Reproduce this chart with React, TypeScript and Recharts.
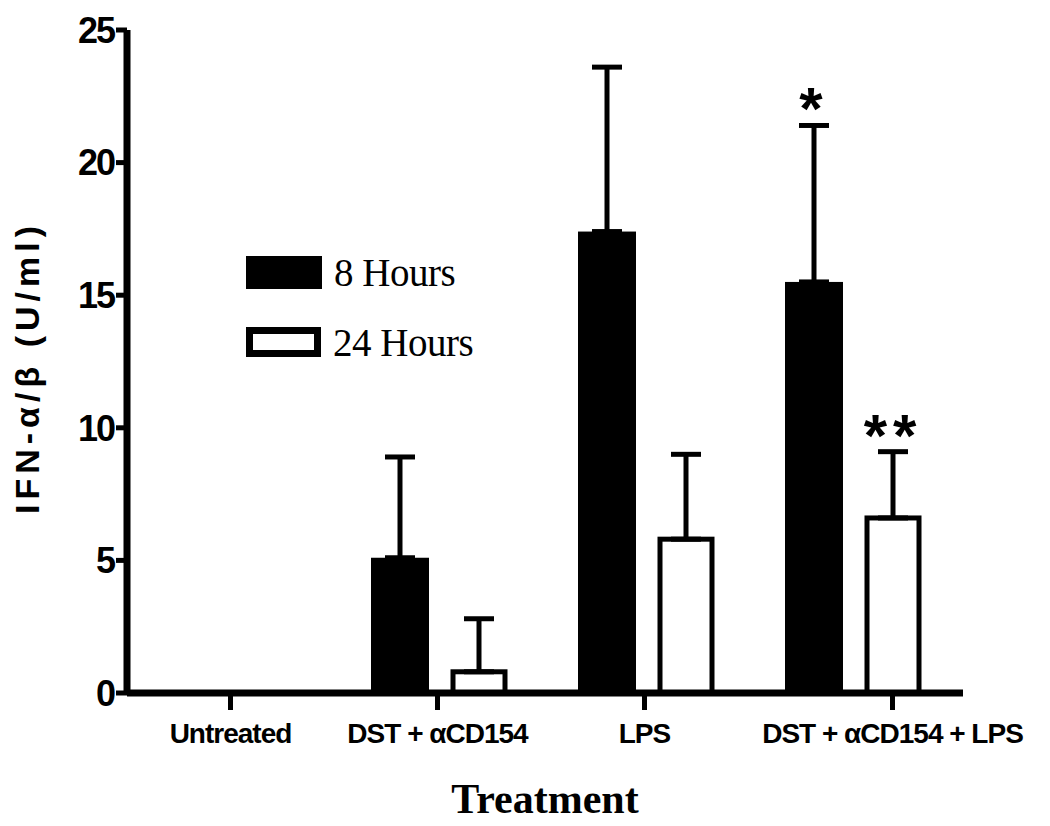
import { BarChart, Bar, XAxis, YAxis, ErrorBar, Legend, Label } from 'recharts';

const treatments = ['Untreated', 'DST + \u03b1CD154', 'LPS', 'DST + \u03b1CD154 + LPS'];
const hours8 = [0, 5.1, 17.4, 15.5];
const hours8Sem = [0, 3.8, 6.2, 5.9];
const hours24 = [0, 0.8, 5.8, 6.6];
const hours24Sem = [0, 2.0, 3.2, 2.5];
const sig8 = ['', '', '', '*'];
const sig24 = ['', '', '', '**'];
const yTicks = [0, 5, 10, 15, 20, 25];

const data = treatments.map((name, i) => ({
  name,
  h8: hours8[i],
  h8Err: [0, hours8Sem[i]],
  h24: hours24[i],
  h24Err: [0, hours24Sem[i]],
}));

const SANS = '"Liberation Sans", Arial, sans-serif';
const SERIF = '"Liberation Serif", "Times New Roman", serif';

// the last label sits under the 24 h bar in the original figure
const tickShift = [0, 0, 0, 41];

function TreatmentTick(props: any) {
  const { x, y, payload, index } = props;
  const cx = x + (tickShift[index] || 0);
  return (
    <g>
      <line x1={cx} y1={y} x2={cx} y2={y + 17} stroke="#000" strokeWidth={5} />
      <text
        x={cx}
        y={y + 50}
        textAnchor="middle"
        fontFamily={SANS}
        fontWeight="bold"
        fontSize={28}
        letterSpacing={-1}
        fill="#000"
      >
        {payload.value}
      </text>
    </g>
  );
}

// bar rectangle plus the significance mark above its error cap
const markedBar = (marks: string[], vals: number[], errs: number[]) => (props: any) => {
  const { x, y, width, height, fill, stroke, strokeWidth, payload } = props;
  const i = treatments.indexOf(payload?.name);
  const mark = marks[i];
  let star = null;
  if (mark && vals[i]) {
    const perUnit = Math.abs(height) / vals[i];
    const capY = Math.min(y, y + height) - errs[i] * perUnit;
    star = (
      <text
        x={x + width / 2}
        y={capY + 4}
        textAnchor="middle"
        fontFamily={SANS}
        fontWeight="bold"
        fontSize={60}
        letterSpacing={6}
        fill="#000"
      >
        {mark}
      </text>
    );
  }
  return (
    <g>
      <rect
        x={x}
        y={Math.min(y, y + height)}
        width={width}
        height={Math.abs(height)}
        fill={fill}
        stroke={stroke}
        strokeWidth={strokeWidth}
      />
      {star}
    </g>
  );
};

function LegendBox() {
  return (
    <div style={{ fontFamily: SERIF, fontSize: 39, color: '#000', lineHeight: 1 }}>
      <div style={{ display: 'flex', alignItems: 'center', height: 33 }}>
        <div style={{ width: 76, height: 33, background: '#000' }} />
        <span style={{ marginLeft: 12, letterSpacing: -0.5 }}>8 Hours</span>
      </div>
      <div style={{ display: 'flex', alignItems: 'center', height: 30, marginTop: 38 }}>
        <div style={{ width: 75, height: 30, border: '7px solid #000', boxSizing: 'border-box', background: '#fff' }} />
        <span style={{ marginLeft: 12, letterSpacing: -0.5 }}>24 Hours</span>
      </div>
    </div>
  );
}

export default function App() {
  return (
    <div style={{ position: 'absolute', left: 0, top: 0, background: '#fff' }}>
      <BarChart
        width={1050}
        height={826}
        data={data}
        margin={{ top: 30, right: 87, left: 0, bottom: 0 }}
        barGap={24}
      >
        <XAxis
          dataKey="name"
          height={133}
          padding={{ left: 0, right: 8 }}
          axisLine={{ stroke: '#000', strokeWidth: 7 }}
          tickLine={false}
          tickSize={0}
          tickMargin={0}
          interval={0}
          tick={<TreatmentTick />}
        >
          <Label
            value="Treatment"
            position="insideBottom"
            offset={13}
            style={{ fontFamily: SERIF, fontWeight: 'bold', fontSize: 42, fill: '#000' }}
          />
        </XAxis>
        <YAxis
          width={127}
          domain={[0, 25]}
          ticks={yTicks}
          interval={0}
          axisLine={{ stroke: '#000', strokeWidth: 7 }}
          tickLine={{ stroke: '#000', strokeWidth: 5 }}
          tickSize={11}
          tickMargin={2}
          tick={{ fontFamily: SANS, fontWeight: 'bold', fontSize: 36, fill: '#000', letterSpacing: -2 }}
        >
          <Label
            content={(p: any) => {
              const vb = p.viewBox;
              const cx = 27;
              const cy = vb.y + vb.height / 2 + 6;
              return (
                <text
                  x={cx}
                  y={cy}
                  transform={`rotate(-90 ${cx} ${cy})`}
                  textAnchor="middle"
                  dominantBaseline="central"
                  fontFamily={SANS}
                  fontWeight="bold"
                  fontSize={34}
                  letterSpacing={5}
                  fill="#000"
                >
                  IFN-α/β (U/ml)
                </text>
              );
            }}
          />
        </YAxis>
        <Legend
          layout="horizontal"
          verticalAlign="middle"
          align="center"
          content={<LegendBox />}
          wrapperStyle={{ position: 'absolute', left: 246, top: 256, width: 'auto' }}
        />
        <Bar
          dataKey="h8"
          name="8 Hours"
          fill="#000"
          barSize={58}
          isAnimationActive={false}
          shape={markedBar(sig8, hours8, hours8Sem)}
        >
          <ErrorBar dataKey="h8Err" width={15} stroke="#000" strokeWidth={5} direction="y" />
        </Bar>
        <Bar
          dataKey="h24"
          name="24 Hours"
          fill="#fff"
          stroke="#000"
          strokeWidth={5}
          barSize={52}
          isAnimationActive={false}
          shape={markedBar(sig24, hours24, hours24Sem)}
        >
          <ErrorBar dataKey="h24Err" width={15} stroke="#000" strokeWidth={5} direction="y" />
        </Bar>
      </BarChart>
    </div>
  );
}
